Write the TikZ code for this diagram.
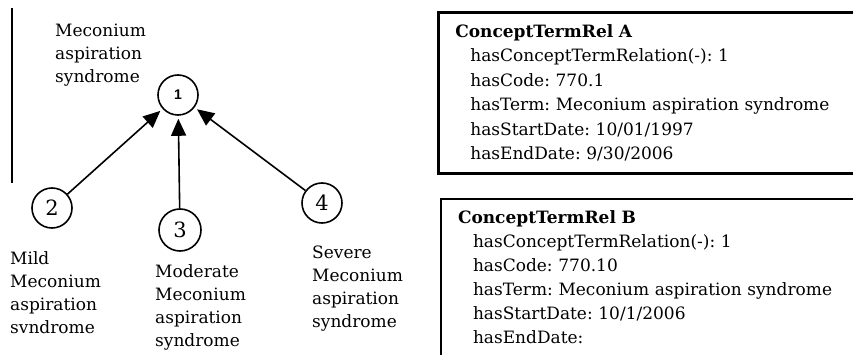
\documentclass[tikz,border=0pt]{standalone}
\usepackage{fontspec}
\setmainfont{DejaVu Serif}
\setsansfont{Liberation Sans}
\usetikzlibrary{arrows.meta,positioning}
\frenchspacing

\begin{document}
\begin{tikzpicture}[x=1pt, y=-1pt, term/.style={circle, draw, line width=1.6pt, minimum size=40pt, inner sep=0pt, font=\fontsize{21}{21}\selectfont}, lbl/.style={align=left, inner sep=0pt, anchor=north west, font=\fontsize{17}{23}\selectfont}, isa/.style={-{Triangle[length=17pt, width=15pt]}, line width=1.6pt, shorten >=3pt}, relbox/.style={draw, anchor=north west, align=left, text width=420pt, inner xsep=17pt, inner ysep=12pt, font=\fontsize{17}{24.5}\selectfont}]

    \clip (0,0) rectangle (853,355);
    \draw[line width=1.2pt] (12,8) -- (12,183);

    \node[term] (n1) at (178,95) {\sffamily\bfseries\fontsize{14}{14}\selectfont 1};
    \node[term] (n2) at (52,208) {2};
    \node[term, minimum size=42pt] (n3) at (180,230) {3};
    \node[term] (n4) at (322,203) {4};

    \node[lbl] (t1) at (55,24) {Meconium\\aspiration\\syndrome};
    \node[lbl] (t2) at (10,251) {Mild\\Meconium\\aspiration\\svndrome};
    \node[lbl] (t3) at (155,264) {Moderate\\Meconium\\aspiration\\syndrome};
    \node[lbl] (t4) at (312,246) {Severe\\Meconium\\aspiration\\syndrome};

    \draw[isa] (n2) -- (n1);
    \draw[isa] (n3) -- (n1);
    \draw[isa] (n4) -- (n1);

    \node[relbox, line width=2.6pt] (relA) at (437,11) {\textbf{ConceptTermRel A}\\
      \hspace*{15pt}hasConceptTermRelation(-): 1\\
      \hspace*{15pt}hasCode: 770.1\\
      \hspace*{15pt}hasTerm: Meconium aspiration syndrome\\
      \hspace*{15pt}hasStartDate: 10/01/1997\\
      \hspace*{15pt}hasEndDate: 9/30/2006};
    \node[relbox, line width=2pt, font=\fontsize{17}{24}\selectfont] (relB) at (440,198) {\textbf{ConceptTermRel B}\\
      \hspace*{15pt}hasConceptTermRelation(-): 1\\
      \hspace*{15pt}hasCode: 770.10\\
      \hspace*{15pt}hasTerm: Meconium aspiration syndrome\\
      \hspace*{15pt}hasStartDate: 10/1/2006\\
      \hspace*{15pt}hasEndDate:\\
      \mbox{}};

    %\draw[red] (0,0) grid[step=50] (853,355);
\end{tikzpicture}
\end{document}
